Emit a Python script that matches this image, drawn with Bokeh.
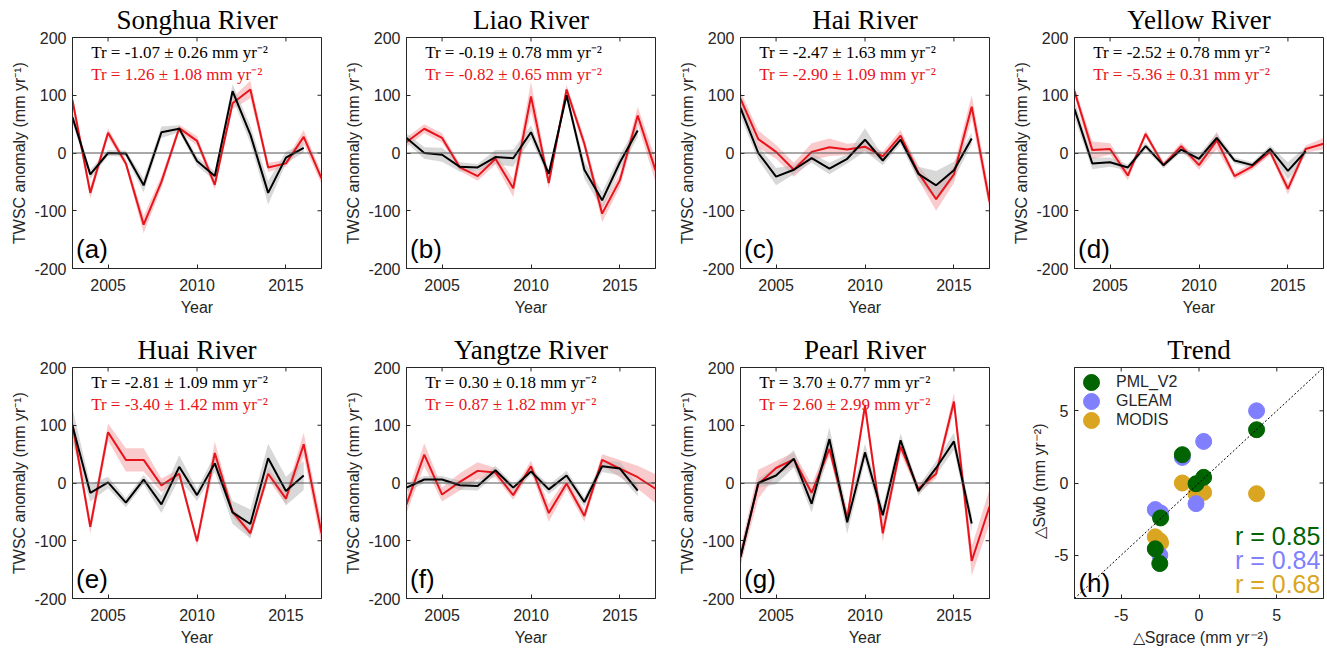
from bokeh.core.properties import value
from bokeh.plotting import figure
from bokeh.layouts import gridplot
from bokeh.models import Span, Label, Range1d, FixedTicker, Slope, Legend, LegendItem
from bokeh.embed import file_html
from bokeh.resources import INLINE

# ---------------- data ----------------
years = list(range(2003, 2018))          # red series (2003-2017)
years_black = list(range(2003, 2017))    # black series (2003-2016)

titles = ["Songhua River", "Liao River", "Hai River", "Yellow River",
          "Huai River", "Yangtze River", "Pearl River"]
letters = ["(a)", "(b)", "(c)", "(d)", "(e)", "(f)", "(g)"]
tr_black = ["-1.07 \u00b1 0.26", "-0.19 \u00b1 0.78", "-2.47 \u00b1 1.63", "-2.52 \u00b1 0.78",
            "-2.81 \u00b1 1.09", "0.30 \u00b1 0.18", "3.70 \u00b1 0.77"]
tr_red = ["1.26 \u00b1 1.08", "-0.82 \u00b1 0.65", "-2.90 \u00b1 1.09", "-5.36 \u00b1 0.31",
          "-3.40 \u00b1 1.42", "0.87 \u00b1 1.82", "2.60 \u00b1 2.99"]

songhua_black = [62, -37, 0, -1, -56, 36, 42, -14, -40, 107, 32, -69, -8, 9]
songhua_red = [91, -69, 35, -18, -124, -50, 43, 21, -55, 86, 110, -25, -18, 28, -44]
songhua_black_err = [10, 8, 5, 5, 12, 10, 6, 8, 8, 12, 15, 20, 10, 8]
songhua_red_err = [10, 10, 8, 6, 15, 10, 6, 8, 8, 10, 15, 8, 6, 12, 10]

liao_black = [26, 0, -3, -24, -25, -7, -9, 36, -36, 100, -29, -82, -16, 39]
liao_red = [19, 42, 26, -25, -40, -10, -61, 98, -52, 110, 16, -105, -47, 65, -30]
liao_black_err = [8, 10, 12, 8, 6, 12, 15, 12, 8, 6, 15, 15, 12, 12]
liao_red_err = [8, 8, 8, 6, 8, 10, 15, 25, 10, 8, 10, 15, 12, 15, 20]

hai_black = [78, 0, -41, -29, -9, -27, -10, 23, -13, 23, -36, -56, -30, 25]
hai_red = [94, 24, 2, -29, 2, 10, 6, 11, -6, 30, -34, -80, -37, 80, -84]
hai_black_err = [15, 12, 15, 8, 8, 10, 8, 20, 8, 8, 12, 25, 15, 10]
hai_red_err = [12, 15, 12, 12, 15, 15, 10, 8, 8, 10, 12, 20, 15, 20, 15]

yellow_black = [76, -18, -16, -25, 12, -21, 6, -10, 26, -13, -21, 7, -31, 3]
yellow_red = [107, 5, 7, -39, 33, -21, 12, -21, 22, -40, -23, 2, -62, 7, 16]
yellow_black_err = [15, 10, 8, 5, 6, 5, 5, 8, 8, 5, 5, 6, 15, 8]
yellow_red_err = [8, 15, 10, 8, 6, 6, 6, 8, 15, 6, 6, 6, 10, 6, 10]

huai_black = [99, -17, 1, -34, 6, -37, 28, -21, 34, -51, -71, 43, -14, 13]
huai_red = [101, -76, 88, 40, 40, -4, 16, -101, 52, -50, -87, 16, -27, 67, -87]
huai_black_err = [30, 15, 10, 8, 8, 15, 20, 10, 15, 20, 25, 25, 25, 25]
huai_red_err = [12, 12, 15, 20, 20, 12, 8, 8, 20, 8, 8, 10, 10, 20, 20]

yangtze_black = [-8, 6, 6, -4, -5, 22, -8, 20, -11, 13, -33, 29, 25, -13]
yangtze_red = [-37, 49, -20, 2, 21, 18, -21, 29, -52, -1, -57, 40, 25, 10, -10]
yangtze_black_err = [8, 6, 6, 8, 8, 8, 6, 6, 8, 8, 8, 10, 12, 10]
yangtze_red_err = [15, 20, 12, 15, 15, 8, 8, 10, 15, 10, 10, 10, 15, 20, 25]

pearl_black = [-128, 0, 13, 42, -36, 76, -68, 53, -56, 74, -14, 26, 72, -70]
pearl_red = [-128, -2, 26, 41, -17, 59, -61, 134, -87, 63, -10, 16, 141, -135, -41]
pearl_black_err = [15, 8, 15, 15, 15, 20, 20, 15, 15, 12, 8, 12, 15, 15]
pearl_red_err = [15, 25, 12, 12, 15, 12, 12, 12, 15, 12, 8, 8, 15, 25, 30]

black_series = [songhua_black, liao_black, hai_black, yellow_black, huai_black, yangtze_black, pearl_black]
red_series = [songhua_red, liao_red, hai_red, yellow_red, huai_red, yangtze_red, pearl_red]
black_errs = [songhua_black_err, liao_black_err, hai_black_err, yellow_black_err,
              huai_black_err, yangtze_black_err, pearl_black_err]
red_errs = [songhua_red_err, liao_red_err, hai_red_err, yellow_red_err,
            huai_red_err, yangtze_red_err, pearl_red_err]

year_ticks = [2005, 2010, 2015]
twsc_ticks = [-200, -100, 0, 100, 200]

# trend scatter (h)
sgrace = [-1.07, -0.19, -2.47, -2.52, -2.81, 0.30, 3.70]
pml_v2 = [1.96, -0.05, -2.42, -5.58, -4.56, 0.39, 3.69]
gleam = [1.77, -1.43, -2.07, -5.00, -1.84, 2.88, 5.00]
modis = [0.00, -0.76, -4.15, -4.00, -3.73, -0.65, -0.74]
r_values = ["r = 0.85", "r = 0.84", "r = 0.68"]
trend_ticks = [-5, 0, 5]

# ---------------- style ----------------
SERIF = "Liberation Serif"
SANS = "Liberation Sans"
AX = "#262626"
RED = "#e8141c"
GREEN = "#006400"
PURPLE = "#8080ff"
GOLD = "#daa520"
FRAME_W, FRAME_H, TICK_PX = 249, 232, 4


def style(p, xticks, yticks, xlabel, ylabel):
    p.grid.visible = False
    p.outline_line_color = AX
    p.outline_line_alpha = 1
    p.outline_line_width = 1
    p.title.text_font = SERIF
    p.title.text_font_size = "27px"
    p.title.text_font_style = "normal"
    p.title.align = "center"
    p.title.text_color = "black"
    p.title.standoff = 5
    p.title.offset = 0
    p.xaxis.ticker = FixedTicker(ticks=xticks)
    p.yaxis.ticker = FixedTicker(ticks=yticks)
    p.xaxis.major_label_overrides = {t: str(t) for t in xticks}
    p.yaxis.major_label_overrides = {t: str(t) for t in yticks}
    p.xaxis.axis_label = xlabel
    p.yaxis.axis_label = ylabel
    for ax in p.xaxis + p.yaxis:
        ax.major_tick_in = TICK_PX
        ax.major_tick_out = 0
        ax.minor_tick_line_color = None
        ax.axis_line_color = AX
        ax.major_tick_line_color = AX
        ax.major_label_text_font = SANS
        ax.major_label_text_font_size = "16px"
        ax.major_label_text_color = AX
        ax.axis_label_text_font = SANS
        ax.axis_label_text_font_size = "16px"
        ax.axis_label_text_font_style = "normal"
        ax.axis_label_text_color = AX
    for ax in p.xaxis:
        ax.major_label_standoff = 10
        ax.axis_label_standoff = 5
    for ax in p.yaxis:
        ax.major_label_standoff = 6
        ax.axis_label_standoff = 3
    # inward ticks on the top and right edges of the box (MATLAB "box on")
    xr, yr = p.x_range, p.y_range
    dy = (yr.end - yr.start) * TICK_PX / FRAME_H
    dx = (xr.end - xr.start) * TICK_PX / FRAME_W
    p.segment(x0=xticks, x1=xticks, y0=[yr.end] * len(xticks), y1=[yr.end - dy] * len(xticks),
              line_color=AX, line_width=1)
    p.segment(x0=[xr.end] * len(yticks), x1=[xr.end - dx] * len(yticks), y0=yticks, y1=yticks,
              line_color=AX, line_width=1)


def make_ts(i, width, height, mb_bottom, mb_right):
    p = figure(width=width, height=height, x_range=Range1d(2003, 2017), y_range=Range1d(-200, 200),
               output_backend="svg", toolbar_location=None, title=titles[i],
               min_border_left=72, min_border_right=mb_right, min_border_top=36,
               min_border_bottom=mb_bottom, background_fill_color="white")
    style(p, year_ticks, twsc_ticks, "Year", "TWSC anomaly (mm yr\u207b\u00b9)")
    rs, re_ = red_series[i], red_errs[i]
    bs, be = black_series[i], black_errs[i]
    p.varea(x=years, y1=[v - e for v, e in zip(rs, re_)], y2=[v + e for v, e in zip(rs, re_)],
            fill_color=RED, fill_alpha=0.22)
    p.varea(x=years_black, y1=[v - e for v, e in zip(bs, be)], y2=[v + e for v, e in zip(bs, be)],
            fill_color="#b8b8b8", fill_alpha=0.55)
    p.add_layout(Span(location=0, dimension="width", line_color="#555555", line_width=1))
    p.line(years, rs, line_color=RED, line_width=2)
    p.line(years_black, bs, line_color="black", line_width=2)
    p.add_layout(Label(x=2004.05, y=174, text="Tr = " + tr_black[i] + " mm yr\u207b\u00b2",
                       text_font=SERIF, text_font_size="17px", text_color="black",
                       text_baseline="middle"))
    p.add_layout(Label(x=2004.05, y=136, text="Tr = " + tr_red[i] + " mm yr\u207b\u00b2",
                       text_font=SERIF, text_font_size="17px", text_color=RED,
                       text_baseline="middle"))
    p.add_layout(Label(x=2003.2, y=-192, text=letters[i], text_font=SANS, text_font_size="26px",
                       text_color="black", text_baseline="bottom"))
    return p


figs = []
for i in range(7):
    r = i // 4
    c = i % 4
    w = 327 if c == 3 else 334
    mr = 6 if c == 3 else 13
    h = 330 if r == 0 else 325
    mb = 62 if r == 0 else 57
    figs.append(make_ts(i, w, h, mb, mr))

# trend panel (h)
ph = figure(width=327, height=325, x_range=Range1d(-8, 8), y_range=Range1d(-8, 8),
            output_backend="svg", toolbar_location=None, title="Trend",
            min_border_left=72, min_border_right=6, min_border_top=36, min_border_bottom=57)
style(ph, trend_ticks, trend_ticks, "\u25b3Sgrace (mm yr\u207b\u00b2)", "\u25b3Swb (mm yr\u207b\u00b2)")
ph.add_layout(Slope(gradient=1, y_intercept=0, line_color="black", line_width=1, line_dash="2 2"))
r_modis = ph.scatter(sgrace, modis, size=16, fill_color=GOLD, line_color=GOLD)
r_gleam = ph.scatter(sgrace, gleam, size=16, fill_color=PURPLE, line_color=PURPLE)
r_pml = ph.scatter(sgrace, pml_v2, size=16, fill_color=GREEN, line_color=GREEN)
# one legend per entry so the rows can sit closer than the glyph box
for k, (lab, rend) in enumerate([("PML_V2", r_pml), ("GLEAM", r_gleam), ("MODIS", r_modis)]):
    lg = Legend(items=[LegendItem(label=lab, renderers=[rend])],
                location=(-3, 196 - 19 * k), glyph_width=40, glyph_height=40,
                label_standoff=5, margin=0, padding=0, border_line_color=None,
                background_fill_alpha=0, label_text_font=SANS, label_text_font_size="16px",
                label_text_color=AX, label_height=19)
    ph.add_layout(lg)
for txt, col, yy in zip(r_values, [GREEN, PURPLE, GOLD], [-3.7, -5.3, -7.0]):
    ph.add_layout(Label(x=7.8, y=yy, text=txt, text_font=SANS, text_font_size="25px",
                        text_color=col, text_align="right", text_baseline="middle"))
ph.add_layout(Label(x=-7.75, y=-7.95, text="(h)", text_font=SANS, text_font_size="26px",
                    text_color="black", text_baseline="bottom"))
figs.append(ph)

grid = gridplot([figs[0:4], figs[4:8]], toolbar_location=None)
open("out.html", "w").write(file_html(grid, INLINE))
